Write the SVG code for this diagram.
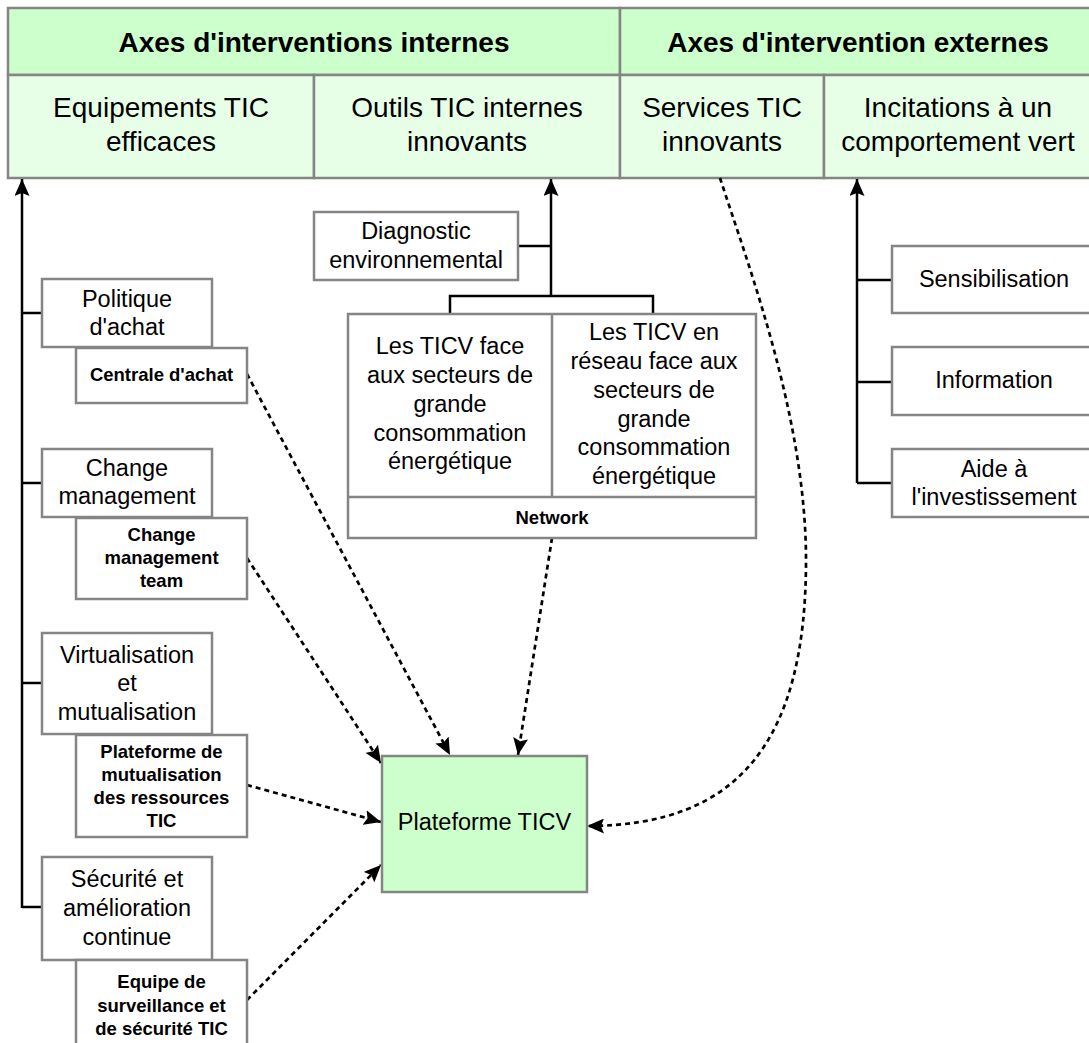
<svg xmlns="http://www.w3.org/2000/svg" width="1089" height="1043" viewBox="0 0 1089 1043">
  <defs>
    <style>
      text { font-family: "Liberation Sans", Arial, Helvetica, sans-serif; fill: #000; text-anchor: middle; }
      .hdr { font-size: 28px; font-weight: bold; }
      .sub { font-size: 28px; }
      .n { font-size: 23.5px; }
      .b { font-size: 18.5px; font-weight: bold; }
      .box { fill: #ffffff; stroke: #858585; stroke-width: 2.5; }
      .g1 { fill: #ccffcc; stroke: #858585; stroke-width: 2.5; }
      .g2 { fill: #e6ffe6; stroke: #858585; stroke-width: 2.5; }
      .tree { fill: none; stroke: #000; stroke-width: 2.5; }
      .dash { fill: none; stroke: #000; stroke-width: 2.7; stroke-dasharray: 5 4; }
    </style>
    <marker id="arr" markerUnits="userSpaceOnUse" viewBox="0 0 17 15" markerWidth="17" markerHeight="15" refX="17" refY="7.5" orient="auto">
      <path d="M0,0 L17,7.5 L0,15 L3,7.5 Z" fill="#000"/>
    </marker>
  </defs>

  <rect width="1089" height="1043" fill="#ffffff"/>

  <!-- header table -->
  <g id="axes-internes">
    <rect class="g1" x="8" y="8" width="612" height="67"/>
    <text class="hdr" x="314" y="52">Axes d'interventions internes</text>
  </g>
  <g id="axes-externes">
    <rect class="g1" x="620" y="8" width="474" height="67"/>
    <text class="hdr" x="858" y="52">Axes d'intervention externes</text>
  </g>
  <g id="equipements">
    <rect class="g2" x="8" y="75" width="306" height="103"/>
    <text class="sub"><tspan x="161" y="117">Equipements TIC</tspan><tspan x="161" y="151">efficaces</tspan></text>
  </g>
  <g id="outils">
    <rect class="g2" x="314" y="75" width="306" height="103"/>
    <text class="sub"><tspan x="467" y="117">Outils TIC internes</tspan><tspan x="467" y="151">innovants</tspan></text>
  </g>
  <g id="services">
    <rect class="g2" x="620" y="75" width="204" height="103"/>
    <text class="sub"><tspan x="722" y="117">Services TIC</tspan><tspan x="722" y="151">innovants</tspan></text>
  </g>
  <g id="incitations">
    <rect class="g2" x="824" y="75" width="270" height="103"/>
    <text class="sub"><tspan x="958" y="117">Incitations à un</tspan><tspan x="958" y="151">comportement vert</tspan></text>
  </g>

  <!-- connectors -->
  <g id="connectors">
    <!-- solid hierarchy lines -->
    <path class="tree" d="M22,908 V179" marker-end="url(#arr)"/>
    <path class="tree" d="M22,313 H42 M22,483 H42 M22,683 H42 M22,907 H42"/>
    <path class="tree" d="M551,296 V179" marker-end="url(#arr)"/>
    <path class="tree" d="M518,246 H551 M450,314 V296 H653 V314"/>
    <path class="tree" d="M857,483 V179" marker-end="url(#arr)"/>
    <path class="tree" d="M857,280 H892 M857,382 H892 M857,483 H892"/>
    <!-- dashed flows into the platform -->
    <path class="dash" d="M247,374 L450,755" marker-end="url(#arr)"/>
    <path class="dash" d="M247,558 L381,763" marker-end="url(#arr)"/>
    <path class="dash" d="M552,538 L518,755" marker-end="url(#arr)"/>
    <path class="dash" d="M247,785 L381,822" marker-end="url(#arr)"/>
    <path class="dash" d="M247,1000 L381,865" marker-end="url(#arr)"/>
    <path class="dash" d="M720,178 C750,270 806,420 806,560 C806,740 740,826 587,826" marker-end="url(#arr)"/>
  </g>

  <!-- left branch -->
  <g id="politique">
    <rect class="box" x="42" y="279" width="170" height="68"/>
    <text class="n"><tspan x="127" y="307">Politique</tspan><tspan x="127" y="335">d'achat</tspan></text>
  </g>
  <g id="centrale">
    <rect class="box" x="76" y="348" width="171" height="55"/>
    <text class="b" x="161.5" y="381">Centrale d'achat</text>
  </g>
  <g id="change">
    <rect class="box" x="42" y="449" width="170" height="68"/>
    <text class="n"><tspan x="127" y="476">Change</tspan><tspan x="127" y="504">management</tspan></text>
  </g>
  <g id="change-team">
    <rect class="box" x="76" y="518" width="171" height="81"/>
    <text class="b"><tspan x="161.5" y="541">Change</tspan><tspan x="161.5" y="564">management</tspan><tspan x="161.5" y="587">team</tspan></text>
  </g>
  <g id="virtualisation">
    <rect class="box" x="42" y="633" width="170" height="101"/>
    <text class="n"><tspan x="127" y="663">Virtualisation</tspan><tspan x="127" y="691">et</tspan><tspan x="127" y="720">mutualisation</tspan></text>
  </g>
  <g id="plateforme-mutualisation">
    <rect class="box" x="76" y="735" width="171" height="102"/>
    <text class="b"><tspan x="161.5" y="758">Plateforme de</tspan><tspan x="161.5" y="781">mutualisation</tspan><tspan x="161.5" y="804">des ressources</tspan><tspan x="161.5" y="827">TIC</tspan></text>
  </g>
  <g id="securite">
    <rect class="box" x="42" y="857" width="170" height="103"/>
    <text class="n"><tspan x="127" y="887">Sécurité et</tspan><tspan x="127" y="916">amélioration</tspan><tspan x="127" y="945">continue</tspan></text>
  </g>
  <g id="equipe-surveillance">
    <rect class="box" x="76" y="960" width="171" height="86"/>
    <text class="b"><tspan x="161.5" y="988">Equipe de</tspan><tspan x="161.5" y="1012">surveillance et</tspan><tspan x="161.5" y="1035">de sécurité TIC</tspan></text>
  </g>

  <!-- middle branch -->
  <g id="diagnostic">
    <rect class="box" x="314" y="212" width="204" height="68"/>
    <text class="n"><tspan x="416" y="239">Diagnostic</tspan><tspan x="416" y="268">environnemental</tspan></text>
  </g>
  <g id="network">
    <rect class="box" x="348" y="314" width="408" height="224"/>
    <path d="M552,314 V497 M348,497 H756" fill="none" stroke="#858585" stroke-width="2.5"/>
    <text class="n"><tspan x="450" y="354">Les TICV face</tspan><tspan x="450" y="383">aux secteurs de</tspan><tspan x="450" y="412">grande</tspan><tspan x="450" y="441">consommation</tspan><tspan x="450" y="469">énergétique</tspan></text>
    <text class="n"><tspan x="654" y="340">Les TICV en</tspan><tspan x="654" y="369">réseau face aux</tspan><tspan x="654" y="398">secteurs de</tspan><tspan x="654" y="427">grande</tspan><tspan x="654" y="455">consommation</tspan><tspan x="654" y="484">énergétique</tspan></text>
    <text class="b" x="552" y="524">Network</text>
  </g>

  <!-- right branch -->
  <g id="sensibilisation">
    <rect class="box" x="892" y="246" width="204" height="67"/>
    <text class="n" x="994" y="287">Sensibilisation</text>
  </g>
  <g id="information">
    <rect class="box" x="892" y="347" width="204" height="68"/>
    <text class="n" x="994" y="388">Information</text>
  </g>
  <g id="aide">
    <rect class="box" x="892" y="449" width="204" height="68"/>
    <text class="n"><tspan x="994" y="477">Aide à</tspan><tspan x="994" y="505">l'investissement</tspan></text>
  </g>

  <!-- central platform -->
  <g id="plateforme-ticv">
    <rect class="g1" x="382" y="756" width="205" height="136"/>
    <text class="n" x="484.5" y="830">Plateforme TICV</text>
  </g>
</svg>
